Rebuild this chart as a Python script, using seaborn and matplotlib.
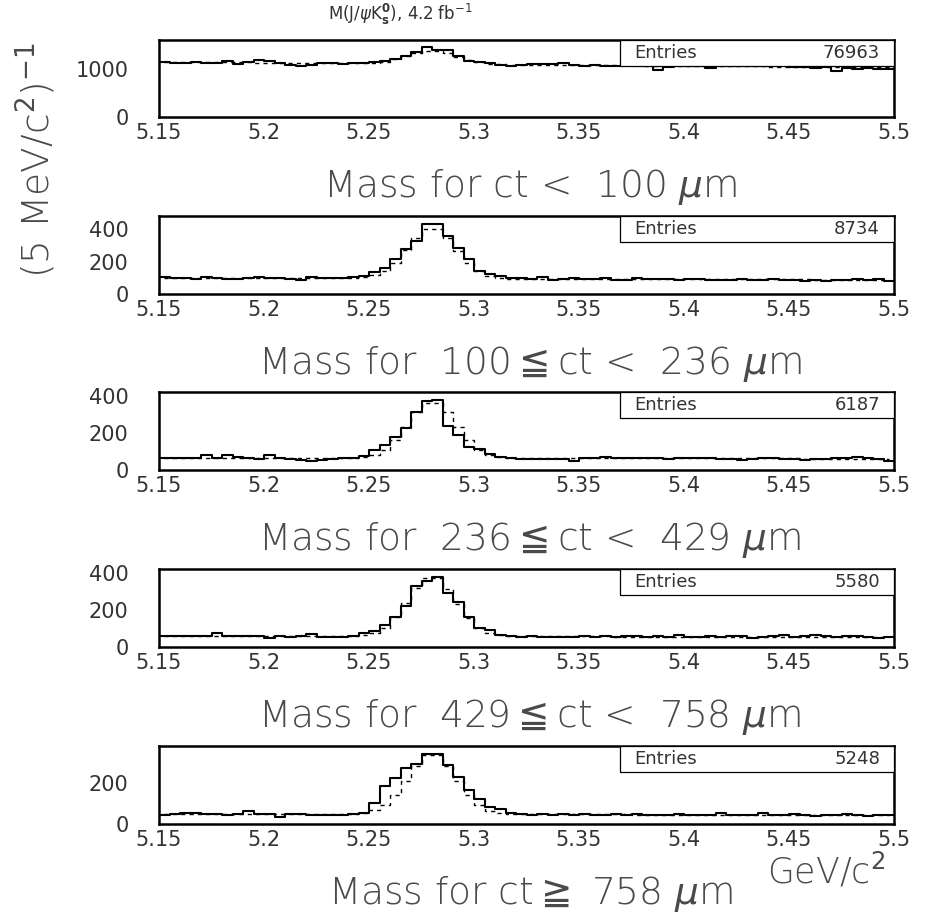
import numpy as np
import pandas as pd
import matplotlib
matplotlib.use("Agg")
import matplotlib.pyplot as plt
from matplotlib.ticker import MultipleLocator, FixedLocator
import seaborn as sns

# 5 MeV bins between 5.15 and 5.50 GeV/c^2
bin_lo, bin_hi, n_bins = 5.15, 5.50, 70

# ---- ct < 100 um ----
counts_1 = [1143, 1109, 1122, 1129, 1125, 1115, 1163, 1095, 1143, 1177,
            1150, 1109, 1075, 1061, 1075, 1116, 1109, 1102, 1109, 1116,
            1129, 1163, 1197, 1265, 1333, 1437, 1380, 1390, 1265, 1163,
            1129, 1109, 1082, 1061, 1070, 1095, 1090, 1085, 1108, 1075,
            1061, 1065, 1058, 1061, 1068, 1058, 1061, 980, 1027, 1095,
            1054, 1050, 1006, 1054, 1058, 1050, 1054, 1048, 1054, 1095,
            1027, 1030, 1020, 1027, 960, 1013, 1000, 1003, 998, 1000]
fit_1 = [1140, 1138, 1137, 1135, 1133, 1132, 1130, 1128, 1126, 1125,
         1123, 1121, 1120, 1118, 1116, 1115, 1113, 1111, 1109, 1113,
         1122, 1144, 1188, 1251, 1317, 1362, 1360, 1312, 1242, 1176,
         1129, 1103, 1091, 1084, 1082, 1081, 1079, 1077, 1075, 1074,
         1072, 1070, 1069, 1067, 1065, 1064, 1062, 1060, 1058, 1057,
         1055, 1053, 1052, 1050, 1048, 1047, 1045, 1043, 1041, 1040,
         1038, 1036, 1035, 1033, 1031, 1030, 1028, 1026, 1024, 1023]

# ---- 100 <= ct < 236 um ----
counts_2 = [106, 98, 100, 95, 104, 99, 94, 92, 100, 104,
            96, 96, 92, 84, 102, 96, 96, 98, 102, 112,
            133, 157, 214, 280, 327, 432, 430, 357, 286, 214,
            139, 122, 112, 96, 100, 92, 102, 86, 94, 96,
            94, 92, 96, 88, 84, 100, 90, 94, 90, 88,
            92, 90, 86, 84, 86, 92, 88, 86, 92, 88,
            84, 82, 86, 80, 84, 88, 90, 84, 92, 80]
fit_2 = [100, 100, 100, 99, 99, 99, 99, 99, 99, 98,
         98, 98, 98, 98, 98, 97, 97, 97, 97, 103,
         115, 142, 193, 268, 346, 399, 399, 345, 267, 192,
         141, 113, 101, 94, 94, 94, 94, 94, 94, 93,
         93, 93, 93, 93, 93, 92, 92, 92, 92, 92,
         92, 91, 91, 91, 91, 91, 90, 90, 90, 90,
         90, 90, 89, 89, 89, 89, 89, 89, 88, 88]

# ---- 236 <= ct < 429 um ----
counts_3 = [65, 65, 67, 67, 81, 65, 81, 70, 67, 60,
            83, 67, 60, 55, 50, 52, 60, 65, 67, 73,
            108, 134, 178, 224, 313, 371, 375, 237, 188, 122,
            113, 86, 68, 65, 60, 60, 60, 60, 60, 50,
            63, 65, 72, 65, 65, 63, 67, 63, 60, 65,
            63, 65, 63, 60, 58, 52, 60, 63, 65, 60,
            60, 52, 60, 58, 63, 63, 72, 67, 60, 50]
fit_3 = [67, 67, 67, 67, 67, 66, 66, 66, 66, 66,
         66, 66, 66, 66, 66, 65, 65, 65, 65, 70,
         83, 110, 161, 234, 311, 362, 362, 311, 233, 160,
         109, 82, 69, 64, 64, 64, 64, 64, 64, 64,
         64, 63, 63, 63, 63, 63, 63, 63, 63, 63,
         63, 63, 62, 62, 62, 62, 62, 62, 62, 62,
         62, 61, 61, 61, 61, 61, 61, 61, 61, 61]

# ---- 429 <= ct < 758 um ----
counts_4 = [60, 60, 58, 60, 60, 76, 58, 58, 60, 58,
            49, 58, 55, 58, 70, 55, 52, 52, 60, 76,
            86, 117, 161, 219, 326, 357, 378, 289, 242, 161,
            104, 89, 66, 60, 55, 58, 55, 52, 55, 52,
            58, 52, 60, 55, 58, 58, 52, 60, 52, 63,
            55, 52, 58, 55, 58, 60, 47, 55, 58, 63,
            55, 58, 65, 58, 55, 60, 58, 52, 47, 55]
fit_4 = [60, 60, 60, 60, 60, 60, 59, 59, 59, 59,
         59, 59, 59, 59, 59, 59, 58, 58, 58, 64,
         77, 105, 159, 235, 316, 371, 371, 315, 234, 158,
         104, 76, 63, 57, 57, 57, 57, 57, 57, 57,
         57, 57, 57, 56, 56, 56, 56, 56, 56, 56,
         56, 56, 56, 56, 56, 56, 56, 56, 56, 55,
         55, 55, 55, 55, 55, 55, 55, 55, 55, 55]

# ---- ct >= 758 um ----
counts_5 = [43, 50, 52, 55, 50, 48, 46, 50, 62, 50,
            50, 35, 48, 50, 46, 46, 44, 46, 48, 55,
            103, 183, 225, 270, 290, 338, 338, 285, 229, 164,
            119, 83, 71, 54, 50, 46, 48, 46, 48, 45,
            50, 46, 44, 48, 46, 48, 43, 46, 44, 48,
            46, 44, 46, 55, 46, 44, 46, 52, 44, 46,
            48, 44, 40, 44, 46, 48, 43, 40, 44, 45]
fit_5 = [50, 50, 50, 50, 50, 49, 49, 49, 49, 49,
         49, 49, 49, 49, 49, 49, 48, 48, 48, 54,
         66, 92, 140, 210, 282, 332, 332, 282, 209, 139,
         91, 65, 53, 47, 47, 47, 47, 47, 47, 47,
         47, 47, 47, 47, 47, 46, 46, 46, 46, 46,
         46, 46, 46, 46, 46, 46, 46, 46, 46, 46,
         46, 45, 45, 45, 45, 45, 45, 45, 45, 45]

entries = [76963, 8734, 6187, 5580, 5248]
titles = [r"Mass for ct <  100 $\mu$m",
          r"Mass for  100$\leqq$ct <  236 $\mu$m",
          r"Mass for  236$\leqq$ct <  429 $\mu$m",
          r"Mass for  429$\leqq$ct <  758 $\mu$m",
          r"Mass for ct$\geqq$ 758 $\mu$m"]
y_max = [1590, 480, 420, 420, 378]
y_major = [[0, 1000], [0, 200, 400], [0, 200, 400], [0, 200, 400], [0, 200]]
y_minor = [200, 50, 50, 50, 50]
x_ticks = [5.15, 5.2, 5.25, 5.3, 5.35, 5.4, 5.45, 5.5]
x_tick_labels = ["5.15", "5.2", "5.25", "5.3", "5.35", "5.4", "5.45", "5.5"]

all_counts = [counts_1, counts_2, counts_3, counts_4, counts_5]
all_fits = [fit_1, fit_2, fit_3, fit_4, fit_5]

sns.set_theme(style="white")
plt.rcParams["font.family"] = ["DejaVu Sans"]
plt.rcParams["mathtext.fontset"] = "dejavusans"

W, H = 928, 918
fig = plt.figure(figsize=(W / 100, H / 100), dpi=100)
fig.patch.set_facecolor("white")

# panel frames in pixels: (top, bottom), stacked on a regular pitch
left_px, right_px = 159, 894
frames = [(40, 117), (216, 294), (392, 470), (569, 647), (746, 824)]

edges = [round(bin_lo + 0.005 * k, 4) for k in range(n_bins + 1)]
centers = [round(bin_lo + 0.005 * k + 0.0025, 5) for k in range(n_bins)]
text_col = "#333333"
title_col = "#4a4a4a"

for i, (top, bot) in enumerate(frames):
    ax = fig.add_axes([left_px / W, 1 - bot / H, (right_px - left_px) / W, (bot - top) / H])
    df = pd.DataFrame({"mass": centers, "n": all_counts[i], "fit": all_fits[i]})
    sns.histplot(data=df, x="mass", weights="n", bins=edges, element="step",
                 fill=False, color="black", linewidth=1.5, ax=ax)
    sns.lineplot(data=df, x="mass", y="fit", drawstyle="steps-mid", color="black",
                 linewidth=1.0, linestyle=(0, (3, 3)), ax=ax)
    ax.set_xlim(bin_lo, bin_hi)
    ax.set_ylim(0, y_max[i])
    ax.set_xlabel("")
    ax.set_ylabel("")
    ax.set_xticks(x_ticks)
    ax.set_xticklabels(x_tick_labels)
    ax.xaxis.set_minor_locator(MultipleLocator(0.025))
    ax.yaxis.set_major_locator(FixedLocator(y_major[i]))
    ax.yaxis.set_minor_locator(MultipleLocator(y_minor[i]))
    ax.tick_params(axis="both", which="both", direction="in", top=False, right=False,
                   color="#8c8c8c", width=0.8, labelsize=15, labelcolor=text_col)
    ax.tick_params(axis="both", which="major", length=9)
    ax.tick_params(axis="both", which="minor", length=4.5)
    ax.tick_params(axis="x", pad=4)
    ax.tick_params(axis="y", pad=22)
    for s in ax.spines.values():
        s.set_linewidth(1.8)
        s.set_color("black")

    # statistics box in the upper right corner
    box_l = (620 - left_px) / (right_px - left_px)
    box_h = 26 / (bot - top)
    ax.add_patch(plt.Rectangle((box_l, 1 - box_h), 1 - box_l, box_h, transform=ax.transAxes,
                               fill=True, facecolor="white", edgecolor="black", linewidth=0.9,
                               zorder=5))
    ax.text(box_l + 0.02, 1 - box_h / 2, "Entries", transform=ax.transAxes, fontsize=13,
            va="center", ha="left", color=text_col, zorder=6)
    ax.text(0.981, 1 - box_h / 2, str(entries[i]), transform=ax.transAxes, fontsize=13,
            va="center", ha="right", color=text_col, zorder=6)

    # histogram title underneath the panel
    fig.text(530 / W, 1 - (bot + 70) / H, titles[i], fontsize=27, color=title_col,
             fontweight="light", ha="center", va="center")

fig.text(400 / W, 1 - 14 / H, r"M(J/$\psi$K$^{\mathbf{0}}_{\mathbf{s}}$), 4.2 fb$^{-1}$",
         fontsize=12, color=text_col, ha="center", va="center")
fig.text(36 / W, 1 - 160 / H, r"(5 MeV/c$^{2}$)$^{-1}$", fontsize=27, color=title_col,
         fontweight="light", rotation=90, ha="center", va="center")
fig.text(826 / W, 1 - 871 / H, r"GeV/c$^{2}$", fontsize=25, color=title_col,
         fontweight="light", ha="center", va="center")

fig.savefig("out.png", dpi=100, facecolor="white")
